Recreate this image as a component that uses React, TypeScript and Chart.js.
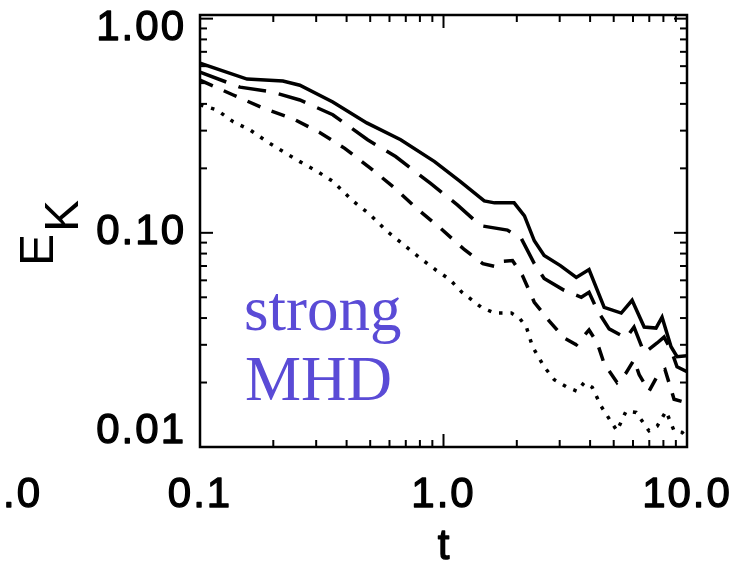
import React, { useEffect, useRef } from "react";
import { Chart, registerables } from "chart.js";

Chart.register(...registerables);

// Kinetic energy decay E_K(t) for four runs (solid, long-dash, short-dash, dotted)
const solidT = [0.1, 0.156, 0.219, 0.257, 0.351, 0.484, 0.667, 0.919, 1.17, 1.47, 1.62, 1.95, 2.15, 2.36, 2.59, 3.02, 3.51, 3.96, 4.57, 5.37, 5.95, 6.67, 7.46, 7.9, 8.6, 9.1, 10.0];
const solidE = [0.62, 0.522, 0.511, 0.489, 0.408, 0.326, 0.272, 0.215, 0.174, 0.141, 0.138, 0.138, 0.12, 0.0918, 0.0783, 0.0703, 0.0619, 0.0674, 0.0449, 0.0422, 0.0484, 0.0363, 0.0359, 0.0404, 0.0294, 0.0264, 0.0267];

const longDashT = [0.1, 0.146, 0.199, 0.257, 0.351, 0.488, 0.636, 0.885, 1.14, 1.42, 1.83, 2.09, 2.36, 2.59, 3.13, 3.68, 3.96, 4.28, 4.79, 5.62, 6.06, 6.67, 7.54, 8.05, 8.6, 9.1, 10.0];
const longDashE = [0.562, 0.479, 0.454, 0.417, 0.356, 0.272, 0.227, 0.17, 0.135, 0.108, 0.103, 0.0938, 0.0718, 0.0612, 0.0539, 0.05, 0.0528, 0.0435, 0.0356, 0.0323, 0.0363, 0.0275, 0.0306, 0.0326, 0.0284, 0.0237, 0.0225];

const shortDashT = [0.1, 0.137, 0.185, 0.241, 0.31, 0.393, 0.502, 0.63, 0.782, 0.972, 1.22, 1.45, 1.63, 1.7, 1.92, 2.11, 2.36, 2.72, 3.13, 3.51, 3.96, 4.28, 4.57, 5.16, 5.62, 6.06, 6.36, 6.98, 7.68, 8.12, 8.85, 9.55, 10.0];
const shortDashE = [0.516, 0.44, 0.379, 0.341, 0.294, 0.248, 0.2, 0.162, 0.129, 0.105, 0.0834, 0.0718, 0.0696, 0.0734, 0.0742, 0.0632, 0.0474, 0.0387, 0.0323, 0.03, 0.0352, 0.0306, 0.0245, 0.02, 0.0222, 0.0255, 0.0218, 0.0182, 0.0222, 0.023, 0.0167, 0.0163, 0.0174];

const dottedT = [0.1, 0.117, 0.137, 0.16, 0.188, 0.219, 0.257, 0.302, 0.351, 0.424, 0.498, 0.584, 0.679, 0.797, 0.936, 1.06, 1.19, 1.43, 1.62, 1.9, 2.05, 2.19, 2.32, 2.59, 2.85, 3.22, 3.54, 3.78, 4.08, 4.44, 4.88, 5.16, 5.62, 6.18, 6.98, 7.54, 8.2, 8.85, 9.55, 10.0];
const dottedE = [0.396, 0.375, 0.33, 0.303, 0.267, 0.24, 0.215, 0.194, 0.174, 0.141, 0.122, 0.102, 0.0889, 0.0766, 0.0667, 0.0606, 0.0528, 0.0449, 0.0422, 0.0422, 0.04, 0.0363, 0.0294, 0.0237, 0.0206, 0.019, 0.0182, 0.02, 0.019, 0.0155, 0.0131, 0.0119, 0.0147, 0.0145, 0.0119, 0.0125, 0.0147, 0.0119, 0.0117, 0.011];

// Axis ticks and their labels
const xMajorTicks = [0.1, 1, 10];
const xTickLabels = ["0.1", "1.0", "10.0"];
const yMajorTicks = [0.01, 0.1, 1];
const yTickLabels = ["0.01", "0.10", "1.00"];
const xTitle = "t";
const yTitleMain = "E";
const yTitleSub = "K";
const panelNote = ["strong", "MHD"];
const neighbourLabel = ".0";

const X_MIN = 0.1;
const X_MAX = 10;
const Y_MIN = 0.01;
const Y_MAX = 1.04;

const pts = (t: number[], e: number[]) => t.map((v, i) => ({ x: v, y: e[i] }));

function minorTicks(min: number, max: number): number[] {
  const out: number[] = [];
  for (let d = Math.pow(10, Math.floor(Math.log10(min))); d < max; d *= 10) {
    for (let k = 2; k <= 9; k++) {
      const v = k * d;
      if (v > min && v < max) out.push(v);
    }
  }
  return out;
}

const TICK_FONT = '42px "Liberation Sans", Arial, Helvetica, sans-serif';

const framePlugin = {
  id: "idlFrame",
  afterDatasetsDraw(chart: any) {
    const { ctx, chartArea: a, scales } = chart;
    const xs = scales.x;
    const ys = scales.y;
    const seg = (x1: number, y1: number, x2: number, y2: number) => {
      ctx.beginPath();
      ctx.moveTo(x1, y1);
      ctx.lineTo(x2, y2);
      ctx.stroke();
    };
    // slightly heavier glyphs: fill plus a thin outline
    const heavyText = (s: string, x: number, y: number, w: number) => {
      ctx.fillText(s, x, y);
      ctx.lineWidth = w;
      ctx.strokeText(s, x, y);
    };
    ctx.save();
    ctx.strokeStyle = "#000";
    ctx.lineCap = "butt";

    // inward ticks on all four sides
    ctx.lineWidth = 2;
    for (const v of minorTicks(X_MIN, X_MAX)) {
      const px = xs.getPixelForValue(v);
      seg(px, a.bottom, px, a.bottom - 7);
      seg(px, a.top, px, a.top + 7);
    }
    for (const v of xMajorTicks) {
      const px = xs.getPixelForValue(v);
      seg(px, a.bottom, px, a.bottom - 13);
      seg(px, a.top, px, a.top + 13);
    }
    for (const v of minorTicks(Y_MIN, Y_MAX)) {
      const py = ys.getPixelForValue(v);
      seg(a.left, py, a.left + 7, py);
      seg(a.right, py, a.right - 7, py);
    }
    for (const v of yMajorTicks) {
      const py = ys.getPixelForValue(v);
      seg(a.left, py, a.left + 13, py);
      seg(a.right, py, a.right - 13, py);
    }

    // frame
    ctx.lineWidth = 2.5;
    ctx.strokeRect(a.left, a.top, a.right - a.left, a.bottom - a.top);

    // tick labels
    ctx.fillStyle = "#000";
    ctx.font = TICK_FONT;
    ctx.lineJoin = "round";
    (ctx as any).letterSpacing = "2px";
    ctx.textBaseline = "middle";
    ctx.textAlign = "center";
    xMajorTicks.forEach((v, i) => {
      const px = xs.getPixelForValue(v);
      heavyText(xTickLabels[i], px, a.bottom + 48, 1.3);
    });
    ctx.textAlign = "right";
    yMajorTicks.forEach((v, i) => {
      const py = ys.getPixelForValue(v);
      const cy = Math.min(Math.max(py, a.top + 13), a.bottom - 16);
      heavyText(yTickLabels[i], a.left - 14, cy, 1.3);
    });
    ctx.textAlign = "left";
    heavyText(neighbourLabel, 3, a.bottom + 48, 1.3);
    (ctx as any).letterSpacing = "0px";

    // axis titles
    ctx.textAlign = "center";
    heavyText(xTitle, (a.left + a.right) / 2, a.bottom + 100, 1.3);

    ctx.save();
    ctx.rotate(-Math.PI / 2);
    ctx.font = '48px "Liberation Sans", Arial, Helvetica, sans-serif';
    ctx.textBaseline = "alphabetic";
    ctx.textAlign = "left";
    ctx.fillText(yTitleMain, -266, 53);
    ctx.fillText(yTitleSub, -232, 78);
    ctx.restore();

    // panel annotation
    ctx.font = '63px "Liberation Serif", "Times New Roman", serif';
    ctx.fillStyle = "#5a4bd6";
    ctx.textAlign = "left";
    ctx.textBaseline = "alphabetic";
    ctx.fillText(panelNote[0], 244, 330);
    ctx.fillText(panelNote[1], 245, 400);

    ctx.restore();
  },
};

export default function App() {
  const canvasRef = useRef<HTMLCanvasElement | null>(null);

  useEffect(() => {
    const canvas = canvasRef.current;
    if (!canvas) return;
    const line = (t: number[], e: number[], dash: number[]) => ({
      data: pts(t, e),
      borderColor: "#000",
      borderWidth: 3.5,
      borderDash: dash,
      borderCapStyle: "butt" as const,
      pointRadius: 0,
      fill: false,
      tension: 0,
    });
    const chart = new Chart(canvas, {
      type: "line",
      data: {
        datasets: [
          line(solidT, solidE, []),
          line(longDashT, longDashE, [28, 13]),
          line(shortDashT, shortDashE, [14, 12]),
          line(dottedT, dottedE, [3.5, 8]),
        ],
      },
      options: {
        animation: false,
        responsive: false,
        devicePixelRatio: 1,
        layout: { padding: { left: 200, right: 51, top: 15, bottom: 119 } },
        plugins: { legend: { display: false }, tooltip: { enabled: false } },
        scales: {
          x: { type: "logarithmic", min: X_MIN, max: X_MAX, display: false },
          y: { type: "logarithmic", min: Y_MIN, max: Y_MAX, display: false },
        },
      },
      plugins: [framePlugin],
    });
    return () => chart.destroy();
  }, []);

  return (
    <div style={{ position: "fixed", left: 0, top: 0, width: 738, height: 566, background: "#fff" }}>
      <canvas ref={canvasRef} width={738} height={566} style={{ display: "block" }} />
    </div>
  );
}
